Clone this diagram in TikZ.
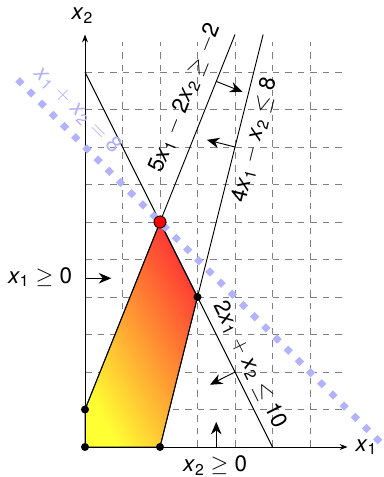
\documentclass[tikz,border=0pt]{standalone}
\usepackage{fontspec}
\setmainfont{TeX Gyre Heros}
\usepackage{tikz}
\usetikzlibrary{arrows.meta}
\usetikzlibrary{calc}

\newcommand{\xv}[1]{\textit{x}\textsubscript{#1}}

\begin{document}
\begin{tikzpicture}[>=Stealth,
		every node/.style={font=\fontsize{17}{20}\selectfont},
		gridline/.style={gray, line width=0.6pt, dash pattern=on 5pt off 4.5pt},
		bound/.style={line width=0.7pt},
		axis/.style={line width=0.7pt, -{Stealth[length=6pt,width=4.5pt]}},
		push/.style={line width=0.7pt, -{Stealth[length=9.5pt,width=8pt]}},
		objective/.style={blue!30, line width=5pt, dash pattern=on 5pt off 7pt}]
		
		\useasboundingbox (-2.267,-0.8) rectangle (7.947,11.92);
		
		% Grid
		\draw[gridline] (0,0) grid (6.9,10.8);
		
		% Feasible region
		\shade[top color=red!80!white, bottom color=yellow!80!white, shading angle=-60]
			(0,0) -- (0,1) -- (2,6) -- (3,4) -- (2,0) -- cycle;
		\draw[bound] (0,0) -- (0,1) -- (2,6) -- (3,4) -- (2,0) -- cycle;
		
		% Axes
		\draw[axis] (0,0) -- (7,0);
		\draw[axis] (0,0) -- (0,11);
		\node (lx1) at (7.5,0) {\xv1};
		\node (lx2) at (-0.07,11.5) {\xv2};
		
		% Constraints
		\draw[bound] (0,10) -- (5,0);
		\draw[bound] (0,1) -- (4,11);
		\draw[bound] (2,0) -- (4.75,11);
		
		\coordinate (c1) at (3.5,9.75);
		\coordinate (c1e) at (4.2,9.47);
		\coordinate (c2) at (4,8);
		\coordinate (c2e) at (3.25,8.19);
		\coordinate (c3) at (4,2);
		\coordinate (c3e) at (3.33,1.66);
		\coordinate (c4) at (3.5,0);
		\coordinate (c4e) at (3.5,0.67);
		\coordinate (c5) at (0,4.5);
		\coordinate (c5e) at (0.7,4.5);
		\draw[push] (c1) -- (c1e);
		\draw[push] (c2) -- (c2e);
		\draw[push] (c3) -- (c3e);
		\draw[push] (c4) -- (c4e);
		\draw[push] (c5) -- (c5e);
		
		\node[rotate=68.2] (l1) at (2.67,9.31) {5\xv1 $-$ 2\xv2 $\geq$ $-$2};
		\node[rotate=76] (l2) at (4.53,8.19) {4\xv1 $-$ \xv2 $\leq$ 8};
		\node[rotate=-63.4] (l3) at (4.4,2.19) {2\xv1 $+$ \xv2 $\leq$ 10};
		\node (l4) at (3.47,-0.5) {\xv2 $\geq$ 0};
		\node (l5) at (-1.2,4.53) {\xv1 $\geq$ 0};
		
		% Objective
		\draw[objective] (-1.8,9.8) -- (7.9,0.1);
		\node[rotate=-45, blue!30] (lobj) at (-0.19,8.99) {\xv1 $+$ \xv2 $=$ 8};
		
		% Vertices
		\foreach \x/\y in {0/0, 0/1, 3/4, 2/0} {
			\fill (\x,\y) circle (0.107);
		}
		\filldraw[fill=red, draw=black, line width=0.7pt] (2,6) circle (0.16);
		
	\end{tikzpicture}
\end{document}
